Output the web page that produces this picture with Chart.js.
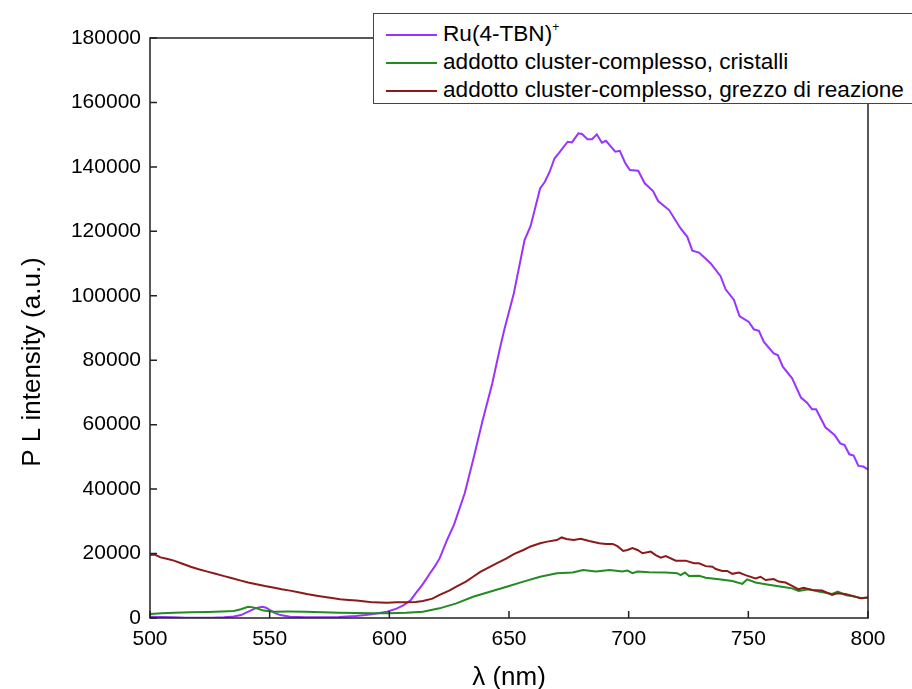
<!DOCTYPE html>
<html>
<head>
<meta charset="utf-8">
<script src="https://cdn.jsdelivr.net/npm/chart.js@4.4.0/dist/chart.umd.min.js"></script>
<style>
  html, body { margin: 0; padding: 0; background: #fff; overflow: hidden; }
  #wrap { position: relative; width: 912px; height: 689px; overflow: hidden; }
  #legend {
    position: absolute; left: 373px; top: 13px; width: 600px; height: 89px;
    border: 1px solid #444; background: #fff;
    font-family: "Liberation Sans", Arial, sans-serif; font-size: 22.6px; color: #000;
  }
  .row { position: absolute; left: 0; height: 28px; line-height: 28px; white-space: nowrap; }
  .row .swatch { position: absolute; left: 12px; top: 14px; width: 51px; height: 0; border-top: 2px solid; }
  .row .txt { position: absolute; left: 69px; top: 0; }
  sup { font-size: 12px; vertical-align: 10px; line-height: 0; }
</style>
</head>
<body>
<div id="wrap">
  <canvas id="chart" width="912" height="689"></canvas>
  <div id="legend"></div>
</div>
<script>
// Ru(4-TBN)+
const ruX = [500, 505, 510, 515, 521, 526, 531, 535, 538, 540, 542, 544, 545.5, 547, 548.5, 550, 552, 554.5, 558.5, 565,
  572, 579, 586, 590, 594, 599, 603, 606, 609, 611, 614, 617, 619, 621, 624, 627, 631.5, 635, 639, 643,
  646, 648, 652, 656.5, 659, 663, 665, 667, 669, 671, 674.5, 676.3, 679, 680.5, 682.8, 684.7, 686.7, 688.8, 690.5, 694.4,
  696.3, 698.5, 700.5, 704, 706.7, 710.2, 712.3, 716.9, 721.7, 724.5, 726.6, 729.4, 734.2, 738.4, 740.5, 744, 746.3, 750.2, 752.3, 754.4,
  756.5, 760.6, 762.3, 764.4, 768.3, 772, 774.5, 776.6, 778.3, 782.2, 786, 788.4, 790.2, 792.2, 794, 796, 798, 800];
const ruY = [400, 300, 200, 100, 50, 100, 200, 500, 900, 1600, 2300, 3000, 3300, 3500, 3200, 2500, 1600, 900, 400, 250,
  200, 300, 600, 900, 1300, 1950, 2900, 4000, 5600, 7650, 10500, 13900, 16000, 18500, 24000, 28900, 38700, 49000, 61400, 72800,
  83000, 89400, 100700, 117300, 121600, 133300, 135400, 138500, 142600, 144400, 147800, 147600, 150400, 150200, 148600, 148600, 150100, 147500, 148100, 144700,
  145000, 141300, 139000, 138800, 134900, 132500, 129400, 126600, 120900, 118300, 114000, 113400, 110100, 106100, 102000, 98700, 93700, 91900, 89600, 89100,
  85700, 82100, 81600, 78000, 74400, 68400, 66800, 64800, 64800, 59200, 56800, 54200, 53700, 50800, 50400, 47200, 47000, 46100];

// addotto cluster-complesso, cristalli
const crisX = [500, 505, 510, 517, 524, 530, 535, 538, 541, 543, 544.5, 547.5, 552, 558, 565, 572, 579, 586, 593, 600,
  607, 614, 621, 628, 635, 642, 649, 656, 663, 670, 676.6, 681, 686.3, 692, 697.4, 699.5, 701.6, 703.7, 708.5, 715.5,
  720.3, 721.7, 723.5, 725.2, 729.4, 732.2, 737.7, 743.3, 747.5, 749.5, 753, 757.2, 764, 768.3, 771, 775.2, 779.4, 785, 787.4, 790.5,
  794.7, 797.5, 800];
const crisY = [1250, 1450, 1650, 1750, 1850, 2000, 2150, 2700, 3500, 3300, 3000, 2300, 1950, 2000, 1950, 1800, 1650, 1550, 1450, 1500,
  1650, 1950, 3000, 4550, 6600, 8150, 9700, 11300, 12800, 13900, 14100, 14900, 14400, 14900, 14400, 14700, 13900, 14400, 14200, 14100,
  13900, 13300, 14100, 13000, 13100, 12500, 12000, 11500, 10600, 12000, 11000, 10500, 9700, 9200, 8400, 8900, 8200, 7450, 8200, 7150,
  6600, 6100, 6400];

// addotto cluster-complesso, grezzo di reazione
const grezX = [500, 502, 504.4, 507, 510, 513, 517, 520, 524, 527, 531, 534, 538, 541, 545, 548, 552, 555, 558.5, 562,
  565.5, 569, 572.4, 576, 579.4, 583, 586.3, 590, 593.3, 599, 603, 607, 611, 614, 618, 621, 625, 628, 632, 635,
  638, 642, 645, 649, 652, 656, 659, 663, 666, 670, 672, 674, 677, 680, 683.5, 687.7, 690.5, 693.3, 695.3, 697.7,
  699.5, 701.6, 703.7, 705.8, 709.2, 711.3, 713.4, 715.5, 719.7, 723.8, 727.3, 729.4, 732.2, 735, 736.4, 739.1, 741.2, 743.3, 746.1, 748.8,
  753, 755.1, 757.2, 760.6, 762.7, 765.5, 768.3, 771, 773.1, 776.6, 780.8, 785, 787, 790.5, 794, 796.8, 800];
const grezY = [19550, 19700, 18800, 18400, 17800, 17000, 15900, 15200, 14400, 13800, 13000, 12400, 11600, 11000, 10400, 9900, 9400, 8900, 8500, 8000,
  7450, 7000, 6600, 6200, 5800, 5600, 5400, 5100, 4850, 4750, 4850, 4850, 5000, 5300, 6000, 7150, 8500, 9700, 11300, 12800,
  14300, 15900, 17000, 18500, 19800, 21100, 22200, 23200, 23700, 24200, 25000, 24500, 24200, 24600, 23900, 23200, 23000, 23000, 22300, 20800,
  21100, 21700, 21100, 20100, 20600, 19500, 18700, 19200, 17800, 17800, 17000, 17000, 16100, 15900, 15200, 14600, 14600, 13700, 14100, 13300,
  12300, 12800, 11800, 12100, 11300, 11000, 10000, 8900, 9400, 8700, 8500, 7150, 7650, 7450, 6800, 6100, 6400];

const seriesLabels = ['Ru(4-TBN)<sup>+</sup>', 'addotto cluster-complesso, cristalli', 'addotto cluster-complesso, grezzo di reazione'];
const seriesColors = ['#9933ff', '#228b22', '#8b1a1a'];
const xTitle = 'λ (nm)';
const yTitle = 'P L intensity (a.u.)';

const FONT = '"Liberation Sans", Arial, sans-serif';

function pts(xs, ys) { return xs.map((x, i) => ({ x: x, y: ys[i] })); }

// legend (html so the superscript stays real text)
const legendEl = document.getElementById('legend');
seriesLabels.forEach((lab, i) => {
  const row = document.createElement('div');
  row.className = 'row';
  row.style.top = (6 + i * 28) + 'px';
  row.innerHTML = '<span class="swatch" style="border-color:' + seriesColors[i] + '"></span><span class="txt">' + lab + '</span>';
  legendEl.appendChild(row);
});

// box, inward ticks and the y title
const frame = {
  id: 'frame',
  afterDraw(chart) {
    const { ctx, chartArea: a, scales } = chart;
    ctx.save();
    ctx.strokeStyle = '#222';
    ctx.lineWidth = 1.5;
    ctx.strokeRect(a.left, a.top, a.right - a.left, a.bottom - a.top);
    ctx.beginPath();
    scales.x.ticks.forEach(t => {
      const px = scales.x.getPixelForValue(t.value);
      ctx.moveTo(px, a.bottom);
      ctx.lineTo(px, a.bottom - 7);
    });
    scales.y.ticks.forEach(t => {
      const py = scales.y.getPixelForValue(t.value);
      ctx.moveTo(a.left, py);
      ctx.lineTo(a.left + 7, py);
    });
    ctx.stroke();
    ctx.translate(33, 362);
    ctx.rotate(-Math.PI / 2);
    ctx.fillStyle = '#000';
    ctx.font = '26px ' + FONT;
    ctx.textAlign = 'center';
    ctx.textBaseline = 'middle';
    ctx.fillText(yTitle, 0, 0);
    ctx.restore();
  }
};

new Chart(document.getElementById('chart'), {
  type: 'line',
  data: {
    datasets: [
      { label: 'Ru(4-TBN)+', data: pts(ruX, ruY), borderColor: seriesColors[0], order: 3 },
      { label: 'addotto cluster-complesso, cristalli', data: pts(crisX, crisY), borderColor: seriesColors[1], order: 2 },
      { label: 'addotto cluster-complesso, grezzo di reazione', data: pts(grezX, grezY), borderColor: seriesColors[2], order: 1 }
    ]
  },
  options: {
    responsive: false,
    animation: false,
    events: [],
    layout: { padding: { left: 0, right: 44, top: 38, bottom: 0 } },
    elements: {
      line: { borderWidth: 2, tension: 0 },
      point: { radius: 0 }
    },
    plugins: {
      legend: { display: false },
      tooltip: { enabled: false }
    },
    scales: {
      x: {
        type: 'linear',
        min: 500,
        max: 800,
        grid: { display: false, drawTicks: false },
        border: { display: false },
        ticks: {
          stepSize: 50,
          padding: 9,
          color: '#000',
          maxRotation: 0,
          font: { family: FONT, size: 21 }
        },
        title: {
          display: true,
          text: xTitle,
          color: '#000',
          font: { family: FONT, size: 26, lineHeight: 1 },
          padding: { top: 0, bottom: -2 }
        },
        afterFit(s) { s.height = 71; }
      },
      y: {
        type: 'linear',
        min: 0,
        max: 180000,
        grid: { display: false, drawTicks: false },
        border: { display: false },
        ticks: {
          stepSize: 20000,
          padding: 9,
          color: '#000',
          font: { family: FONT, size: 21 },
          callback: v => String(v)
        },
        afterFit(s) { s.width = 150; }
      }
    }
  },
  plugins: [frame]
});
</script>
</body>
</html>
